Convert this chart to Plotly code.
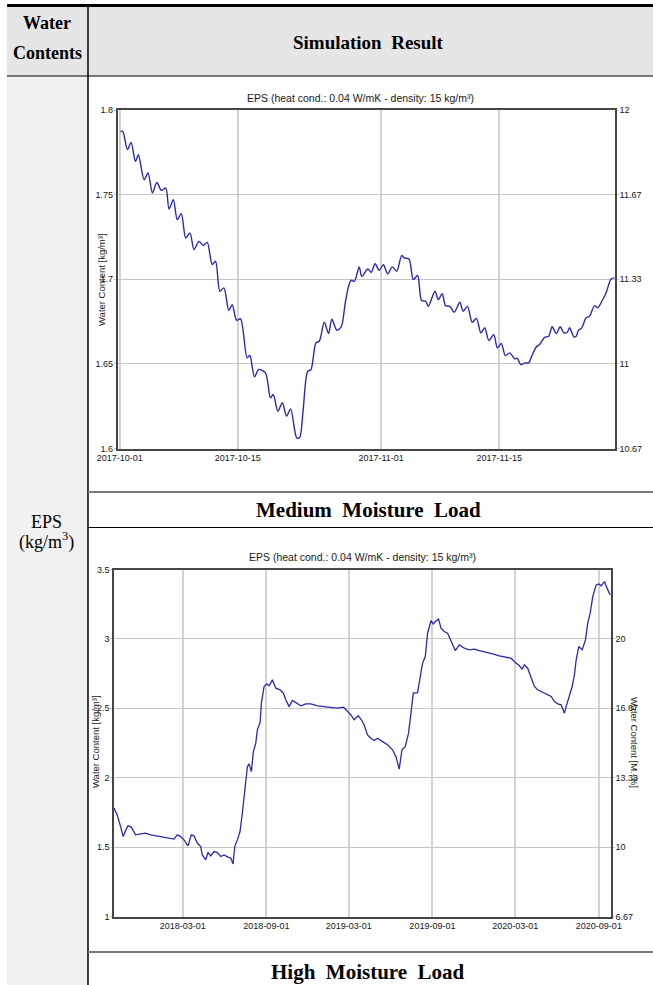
import pandas as pd
import plotly.graph_objects as go

W, H = 653, 985

# ---- data -------------------------------------------------------------
# Medium moisture load: (days since 2017-10-01, water content kg/m³)
medium_points = [
    (0.06, 1.7874), (0.35, 1.7874), (0.91, 1.7766), (1.34, 1.7809), (1.86, 1.7696),
    (2.20, 1.7736), (2.89, 1.7588), (3.35, 1.7628), (3.87, 1.7510), (4.39, 1.7572),
    (4.93, 1.7525), (5.45, 1.7539), (5.84, 1.7415), (6.35, 1.7470), (6.82, 1.7352),
    (7.30, 1.7388), (7.82, 1.7244), (8.32, 1.7274), (8.80, 1.7175), (9.39, 1.7224),
    (9.90, 1.7199), (10.37, 1.7218), (10.96, 1.7087), (11.36, 1.7106), (11.87, 1.6929),
    (12.34, 1.6949), (12.93, 1.6815), (13.33, 1.6850), (13.85, 1.6758), (14.32, 1.6766),
    (15.10, 1.6536), (15.42, 1.6550), (15.97, 1.6423), (16.48, 1.6467), (17.28, 1.6447),
    (17.87, 1.6299), (18.20, 1.6319), (18.75, 1.6220), (19.27, 1.6270), (19.78, 1.6191),
    (20.26, 1.6234), (20.98, 1.6063), (21.32, 1.6063), (21.75, 1.6230), (22.28, 1.6456),
    (22.67, 1.6466), (23.26, 1.6624), (23.66, 1.6634), (24.25, 1.6746), (24.76, 1.6679),
    (25.15, 1.6764), (25.74, 1.6699), (26.26, 1.6719), (26.74, 1.6860), (27.13, 1.6958),
    (27.44, 1.6994), (27.83, 1.6988), (28.39, 1.7073), (28.70, 1.7017), (29.41, 1.7061),
    (29.81, 1.7041), (30.28, 1.7092), (30.76, 1.7053), (31.26, 1.7086), (31.77, 1.7032),
    (32.33, 1.7073), (32.84, 1.7047), (33.43, 1.7140), (33.75, 1.7126), (34.30, 1.7120),
    (34.81, 1.6998), (35.32, 1.7022), (35.79, 1.6874), (36.27, 1.6870), (36.59, 1.6840),
    (37.38, 1.6929), (37.77, 1.6880), (38.24, 1.6915), (38.63, 1.6844), (39.15, 1.6840),
    (39.66, 1.6805), (40.33, 1.6864), (40.72, 1.6811), (41.23, 1.6840), (41.79, 1.6746),
    (42.30, 1.6769), (42.82, 1.6683), (43.29, 1.6713), (43.76, 1.6638), (44.35, 1.6673),
    (44.78, 1.6595), (45.25, 1.6620), (45.73, 1.6549), (46.25, 1.6565), (46.84, 1.6530),
    (47.14, 1.6533), (47.55, 1.6496), (48.09, 1.6506), (48.49, 1.6506), (48.88, 1.6549),
    (49.39, 1.6600), (49.79, 1.6614), (50.38, 1.6657), (50.86, 1.6663), (51.28, 1.6719),
    (51.76, 1.6679), (52.23, 1.6719), (52.67, 1.6683), (53.06, 1.6687), (53.34, 1.6713),
    (53.85, 1.6660), (54.12, 1.6663), (54.40, 1.6699), (54.79, 1.6713), (55.30, 1.6772),
    (55.71, 1.6781), (56.30, 1.6844), (56.69, 1.6831), (57.16, 1.6870), (57.67, 1.6919),
    (58.26, 1.7002), (58.66, 1.7008),
]

# High moisture load: (days since 2017-10-01, water content kg/m³)
high_points = [
    (0.0, 1.781), (7.0, 1.732), (14.5, 1.648), (20.3, 1.576), (25.5, 1.619),
    (30.6, 1.653), (37.9, 1.644), (47.5, 1.588), (58.6, 1.595), (69.6, 1.601),
    (80.6, 1.588), (91.6, 1.581), (106.1, 1.572), (120.8, 1.565), (131.9, 1.558),
    (139.1, 1.588), (146.6, 1.576), (153.9, 1.552), (162.7, 1.509), (169.9, 1.588),
    (175.9, 1.581), (183.1, 1.529), (190.6, 1.504), (194.1, 1.444), (201.6, 1.408),
    (206.7, 1.461), (212.6, 1.437), (219.9, 1.468), (227.2, 1.461), (234.6, 1.432),
    (241.9, 1.444), (250.7, 1.428), (256.7, 1.421), (261.7, 1.379), (265.5, 1.504),
    (271.2, 1.552), (277.1, 1.612), (282.2, 1.745), (287.5, 1.912), (293.2, 2.080),
    (296.9, 2.100), (302.0, 2.044), (306.4, 2.188), (311.7, 2.249), (315.2, 2.345),
    (321.2, 2.397), (324.0, 2.537), (330.0, 2.657), (335.9, 2.676), (341.0, 2.662),
    (348.2, 2.705), (355.7, 2.645), (365.2, 2.633), (372.4, 2.609), (377.7, 2.561),
    (385.0, 2.512), (392.3, 2.556), (399.7, 2.542), (410.7, 2.518), (421.8, 2.532),
    (432.8, 2.532), (447.3, 2.518), (462.0, 2.512), (476.8, 2.508), (491.3, 2.501),
    (504.5, 2.508), (513.3, 2.477), (520.8, 2.453), (528.1, 2.417), (536.9, 2.446),
    (544.1, 2.417), (550.0, 2.380), (557.4, 2.308), (564.8, 2.284), (572.1, 2.268),
    (579.4, 2.284), (590.4, 2.260), (601.4, 2.237), (612.4, 2.201), (619.9, 2.152),
    (627.1, 2.062), (633.1, 2.201), (640.3, 2.224), (647.6, 2.321), (652.9, 2.465),
    (657.9, 2.609), (667.4, 2.613), (672.7, 2.705), (678.4, 2.825), (684.4, 2.873),
    (689.4, 3.041), (696.9, 3.132), (702.0, 3.108), (706.4, 3.125), (713.6, 3.142),
    (718.9, 3.077), (726.2, 3.053), (733.4, 3.041), (740.9, 2.981), (750.4, 2.916),
    (759.2, 2.957), (770.2, 2.933), (781.2, 2.921), (792.2, 2.926), (803.2, 2.916),
    (818.0, 2.901), (832.5, 2.892), (847.2, 2.878), (862.0, 2.868), (873.0, 2.861),
    (882.5, 2.829), (891.3, 2.806), (897.2, 2.782), (902.3, 2.813), (909.5, 2.789),
    (917.0, 2.729), (924.3, 2.657), (931.5, 2.633), (939.0, 2.621), (946.3, 2.609),
    (953.6, 2.597), (961.1, 2.585), (968.3, 2.548), (975.6, 2.532), (983.1, 2.525),
    (990.3, 2.465), (994.1, 2.512), (999.8, 2.573), (1007.3, 2.657), (1012.3, 2.741),
    (1016.1, 2.849), (1021.8, 2.945), (1029.3, 2.921), (1036.5, 2.993), (1041.6, 3.113),
    (1046.9, 3.185), (1052.6, 3.305), (1060.1, 3.389), (1065.8, 3.396), (1071.1, 3.382),
    (1078.4, 3.413), (1085.6, 3.353), (1090.9, 3.317),
]

medium_ticks = ["2017-10-01", "2017-10-15", "2017-11-01", "2017-11-15"]
high_ticks = ["2018-03-01", "2018-09-01", "2019-03-01", "2019-09-01", "2020-03-01", "2020-09-01"]
medium_kg_ticks = [1.6, 1.65, 1.7, 1.75, 1.8]
high_kg_ticks = [1, 1.5, 2, 2.5, 3, 3.5]
medium_pct_labels = ["10.67", "11", "11.33", "11.67", "12"]
high_pct_labels = ["6.67", "10", "13.33", "16.67", "20"]

DENSITY = 15.0  # kg/m³, converts kg/m³ to mass-% (M.-%)
START = pd.Timestamp("2017-10-01")

# ---- helpers ----------------------------------------------------------
def fx(p):
    return p / W


def fy(p):
    return 1 - p / H


def to_pct(v):
    return v / DENSITY * 100


def to_series(points):
    days = [p[0] for p in points]
    wc = [p[1] for p in points]
    t = START + pd.to_timedelta(days, unit="D")
    return t, wc, [to_pct(v) for v in wc]


med_t, med_wc, med_pct = to_series(medium_points)
high_t, high_wc, high_pct = to_series(high_points)

LINE_BLUE = "#2a2aab"
SANS = "Liberation Sans Narrow, Arial Narrow, Liberation Sans, Arial, sans-serif"
SERIF = "Liberation Serif, Times New Roman, serif"
TICK_FONT = dict(family=SANS, size=9, color="#151515")
GRID = "#c6c6c6"
FRAME = "#454545"

fig = go.Figure()

fig.add_trace(go.Scatter(x=med_t, y=med_wc, mode="lines", xaxis="x", yaxis="y",
                         line=dict(color=LINE_BLUE, width=1.4, shape="spline", smoothing=0.8),
                         hoverinfo="skip", showlegend=False))
fig.add_trace(go.Scatter(x=med_t, y=med_pct, mode="lines", xaxis="x", yaxis="y3",
                         line=dict(color=LINE_BLUE, width=0), opacity=0,
                         hoverinfo="skip", showlegend=False))
fig.add_trace(go.Scatter(x=high_t, y=high_wc, mode="lines", xaxis="x2", yaxis="y2",
                         line=dict(color=LINE_BLUE, width=1.3),
                         hoverinfo="skip", showlegend=False))
fig.add_trace(go.Scatter(x=high_t, y=high_pct, mode="lines", xaxis="x2", yaxis="y4",
                         line=dict(color=LINE_BLUE, width=0), opacity=0,
                         hoverinfo="skip", showlegend=False))


def fmt(v):
    return "%g" % v


common_x = dict(type="date", showgrid=True, gridcolor="#d2d2d2", gridwidth=1.6,
                showline=True, linecolor=FRAME, linewidth=1.5, mirror=True,
                ticks="", tickfont=TICK_FONT, zeroline=False, fixedrange=True,
                automargin=False)
common_y = dict(showgrid=True, gridcolor=GRID, gridwidth=1, showline=True,
                linecolor=FRAME, linewidth=1.5, ticks="outside", ticklen=2,
                tickcolor=GRID, tickfont=TICK_FONT, zeroline=False, fixedrange=True,
                automargin=False, ticklabelstandoff=-1)

# top panel (medium load)
top_x0 = START - pd.Timedelta(hours=6.5)
top_x1 = top_x0 + pd.Timedelta(days=59)
# bottom panel (high load)
bot_x0 = START
bot_x1 = START + pd.Timedelta(days=1092.7)

fig.update_layout(
    width=W, height=H,
    margin=dict(l=0, r=0, t=0, b=0, pad=0, autoexpand=False),
    paper_bgcolor="white", plot_bgcolor="white", showlegend=False,
    xaxis=dict(common_x, domain=[fx(117.5), fx(615)], anchor="y",
               range=[top_x0, top_x1], tickvals=medium_ticks, ticktext=medium_ticks),
    yaxis=dict(common_y, domain=[fy(448.5), fy(110)], anchor="x",
               range=[1.6, 1.8], tickvals=medium_kg_ticks,
               ticktext=[fmt(v) for v in medium_kg_ticks]),
    yaxis3=dict(common_y, overlaying="y", side="right", anchor="x", showgrid=False,
                range=[to_pct(1.6), to_pct(1.8)],
                tickvals=[to_pct(v) for v in medium_kg_ticks],
                ticktext=medium_pct_labels),
    xaxis2=dict(common_x, domain=[fx(114), fx(611)], anchor="y2",
                range=[bot_x0, bot_x1], tickvals=high_ticks, ticktext=high_ticks),
    yaxis2=dict(common_y, domain=[fy(916.5), fy(569.5)], anchor="x2",
                range=[1, 3.5], tickvals=high_kg_ticks,
                ticktext=[fmt(v) for v in high_kg_ticks]),
    yaxis4=dict(common_y, overlaying="y2", side="right", anchor="x2", showgrid=False,
                range=[to_pct(1), to_pct(3.5)],
                tickvals=[to_pct(v) for v in [1, 1.5, 2, 2.5, 3]],
                ticktext=high_pct_labels),
)

# ---- table frame --------------------------------------------------------
HEAD_BOTTOM = 76
DIV_X = 88
shapes = [
    dict(type="rect", x0=fx(7), x1=fx(W), y0=fy(7), y1=fy(HEAD_BOTTOM),
         fillcolor="#e6e6e6", line=dict(width=0), layer="below"),
    dict(type="rect", x0=fx(7), x1=fx(DIV_X), y0=fy(HEAD_BOTTOM), y1=fy(H),
         fillcolor="#f1f1f1", line=dict(width=0), layer="below"),
    dict(type="line", x0=fx(7), x1=fx(W), y0=fy(5.5), y1=fy(5.5),
         line=dict(color="black", width=3)),
    dict(type="line", x0=fx(7), x1=fx(W), y0=fy(HEAD_BOTTOM), y1=fy(HEAD_BOTTOM),
         line=dict(color="black", width=1.2)),
    dict(type="line", x0=fx(DIV_X), x1=fx(DIV_X), y0=fy(7), y1=fy(H),
         line=dict(color="black", width=1.5)),
    dict(type="line", x0=fx(DIV_X), x1=fx(W), y0=fy(492), y1=fy(492),
         line=dict(color="#7a7a7a", width=2)),
    dict(type="line", x0=fx(DIV_X), x1=fx(W), y0=fy(527.5), y1=fy(527.5),
         line=dict(color="black", width=1.2)),
    dict(type="line", x0=fx(DIV_X), x1=fx(W), y0=fy(952), y1=fy(952),
         line=dict(color="#7a7a7a", width=2)),
]
for s in shapes:
    s.update(xref="paper", yref="paper")
fig.update_layout(shapes=shapes)

NB = "\u00a0"


def ann(text, x, y, size, family, angle=0, color="black"):
    fig.add_annotation(text=text, x=fx(x), y=fy(y), xref="paper", yref="paper",
                       showarrow=False, textangle=angle, xanchor="center", yanchor="middle",
                       font=dict(family=family, size=size, color=color))


ann("<b>Water</b>", 47, 23, 18, SERIF)
ann("<b>Contents</b>", 47, 53, 18, SERIF)
ann("<b>Simulation" + NB + NB + "Result</b>", 368, 42, 19, SERIF)
ann("EPS", 46, 522, 18, SERIF)
ann("(kg/m<sup>3</sup>)", 46, 541, 18, SERIF)
ann("<b>Medium" + NB + NB + "Moisture" + NB + NB + "Load</b>", 368, 510, 21, SERIF)
ann("<b>High" + NB + NB + "Moisture" + NB + NB + "Load</b>", 368, 972, 21, SERIF)

title = "EPS (heat cond.: 0.04 W/mK - density: 15 kg/m³)"
ann(title, 360, 98, 10.5, SANS, color="#1a1a1a")
ann(title, 362, 557, 10.5, SANS, color="#1a1a1a")
ann("Water Content [kg/m³]", 102, 280, 9.5, SANS, angle=-90, color="#1a1a1a")
ann("Water Content [kg/m³]", 95, 742, 9.5, SANS, angle=-90, color="#1a1a1a")
ann("Water Content [M.-%]", 635, 742, 9.5, SANS, angle=90, color="#1a1a1a")

fig.write_html("out.html")
